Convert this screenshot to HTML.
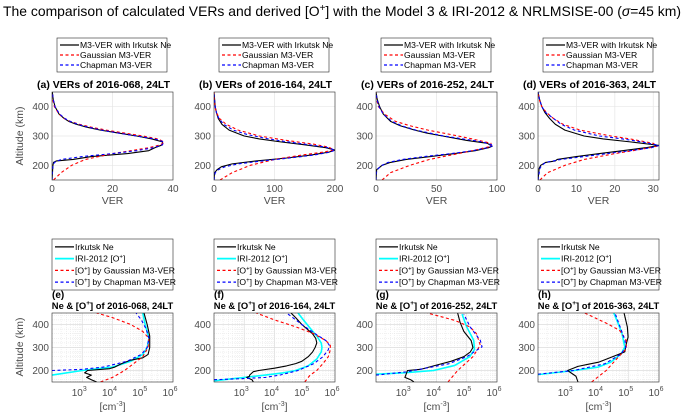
<!DOCTYPE html>
<html><head><meta charset="utf-8">
<style>
html,body{margin:0;padding:0;background:#fff;}
svg{display:block;font-family:"Liberation Sans",sans-serif;}
</style></head>
<body>
<svg id="fig" width="685" height="417" viewBox="0 0 685 417" xmlns="http://www.w3.org/2000/svg">
<text x="3" y="16" font-size="14" fill="#000" textLength="678" lengthAdjust="spacingAndGlyphs">The comparison of calculated VERs and derived [O<tspan dy="-5" font-size="10">+</tspan><tspan dy="5">] with the Model 3 &amp; IRI-2012 &amp; NRLMSISE-00 (</tspan><tspan font-style="italic">σ</tspan>=45 km)</text>
</svg>
<script>
// ---------- data ----------
const panelLefts = [52, 214, 376, 538];
const topTitles = ["(a)  VERs of 2016-068, 24LT","(b)  VERs of 2016-164, 24LT","(c)  VERs of 2016-252, 24LT","(d)  VERs of 2016-363, 24LT"];
const bottomTags = ["(e)","(f)","(g)","(h)"];
const bottomDates = ["2016-068","2016-164","2016-252","2016-363"];
const verMax = [40, 200, 100, 31.5];
const verTicks = [[0,20,40],[0,100,200],[0,50,100],[0,10,20,30]];
const altTicks = [200,300,400];
const logTicks = [3,4,5,6];

// VER panel (a)
const aBlackAlt=[150,200,210,215,220,230,240,250,260,270,280,290,300,310,320,330,340,350,360,375,400,425,450];
const aBlackVal=[0,0.3,0.5,1.5,7,13,25,32,34,36.5,36.5,33,28,22,16,11.5,8,5.5,4,2.3,1,0.4,0.1];
const aBlueAlt=[150,200,210,220,230,240,250,260,270,280,290,300,310,320,330,340,350,360,375,400,425,450];
const aBlueVal=[0,0.3,0.8,3,10,20,28,33.5,36.5,37,34,28,22,16.5,12,8.5,6,4.2,2.5,1,0.4,0.1];
const aRedAlt=[150,160,175,200,220,240,250,260,270,280,290,300,310,320,330,340,350,360,375,400,425,450];
const aRedVal=[0.5,1.5,3,6.5,11,20,26,32,36,37,35,30,24,18,13,9,6,4,2.3,0.8,0.2,0];
// VER panel (b)
const bBlackAlt=[150,175,185,195,205,215,225,235,245,252,260,270,280,290,300,320,340,360,380,400,425,450];
const bBlackVal=[0,1,5,12,30,70,120,160,190,200,185,150,110,75,50,25,13,7,4,2,1,0];
const bBlueAlt=[150,175,185,195,205,215,225,235,245,252,262,272,282,292,305,320,340,360,380,400,425,450];
const bBlueVal=[0,2,7,18,40,80,125,165,192,200,185,150,115,85,55,32,16,8,4,2,0.8,0];
const bRedAlt=[150,175,200,220,235,245,252,262,272,285,300,320,340,360,380,400,425,450];
const bRedVal=[10,30,60,100,145,180,198,190,165,120,75,40,20,9,4,1.5,0.5,0];
// VER panel (c)
const cBlackAlt=[150,185,190,200,210,220,230,240,250,260,265,275,285,300,310,320,335,350,375,400,425,450];
const cBlackVal=[0,0.5,2,5,12,25,45,65,82,93,96,92,75,55,42,32,20,12,6,3,1,0];
const cBlueAlt=[150,180,190,200,210,220,230,240,250,260,268,280,290,300,320,335,350,375,400,425,450];
const cBlueVal=[0,0.5,2,5,10,22,40,62,80,92,97,88,72,56,33,21,13,6,2.5,0.8,0];
const cRedAlt=[150,175,200,220,240,255,265,275,285,300,320,335,350,375,400,425,450];
const cRedVal=[5,12,28,44,68,85,95,95,85,68,43,28,16,7,2,0.5,0];
// VER panel (d)
const dBlackAlt=[150,190,200,210,215,220,230,240,250,260,268,280,290,300,320,340,360,380,400,425,450];
const dBlackVal=[0,0.3,0.7,2,4.5,5,10,16,22,28,31.5,24,17,12,7,4.5,3,1.8,1,0.4,0];
const dBlueAlt=[150,190,200,210,220,230,240,250,260,268,280,290,300,320,340,360,380,400,425,450];
const dBlueVal=[0,0.5,1,2,6,12,18,24,29.5,31.5,27,22,16,9.5,6,4,2,1,0.4,0];
const dRedAlt=[150,175,200,220,240,255,265,275,290,300,320,340,360,380,400,425,450];
const dRedVal=[0.5,2.5,7,12,20,27,31,30,24,19,11,6.5,4,2.2,1,0.3,0];

// density panel (e)
const eBlackAlt=[150,160,170,180,190,200,208,215,230,245,255,270,300,350,400,450];
const eBlackVal=[3e3,2e3,1.4e3,2e3,1.2e3,1.5e3,8e3,1.2e4,2e4,4e4,1e5,1.5e5,1.7e5,1.7e5,1.4e5,1.1e5];
const eCyanAlt=[180,200,215,240,270,300,340,400,450];
const eCyanVal=[1e2,1e3,1e4,4e4,1e5,1.4e5,1.6e5,1.2e5,1e5];
const eBlueAlt=[200,205,215,240,270,300,340,380,420,450];
const eBlueVal=[1e2,1e3,5e3,3e4,9e4,1.4e5,1.6e5,1.3e5,9e4,6e4];
const eRedAlt=[150,170,200,230,260,300,340,370,400,430,450];
const eRedVal=[4e3,1e4,2.5e4,5e4,1e5,1.5e5,1.6e5,1e5,4e4,1e4,3e3];
// density panel (f)
const fBlackAlt=[150,160,170,175,180,195,200,210,220,230,240,260,280,300,320,340,360,380,400,430,450];
const fBlackVal=[2e3,1.8e3,1.2e3,1.5e3,1.5e3,2e3,3e3,1e4,2.5e4,5e4,8e4,1.3e5,1.8e5,2.2e5,2.5e5,2.3e5,1.8e5,1.2e5,8e4,5e4,3.5e4];
const fCyanAlt=[155,170,180,190,200,220,250,280,300,320,350,380,420,450];
const fCyanVal=[1e2,1e3,5e3,2e4,5e4,1.3e5,2.5e5,3.5e5,3.7e5,3.5e5,2.5e5,1.6e5,9e4,6e4];
const fBlueAlt=[160,165,170,180,200,230,260,290,310,330,360,400,430,450];
const fBlueVal=[1e2,1e3,5e3,1.5e4,6e4,2e5,4e5,6e5,6.5e5,5e5,2.2e5,8e4,4e4,2.5e4];
const fRedAlt=[150,180,200,230,260,290,310,330,360,390,420,450];
const fRedVal=[1e5,1.5e5,2.5e5,4e5,6e5,7e5,7e5,5e5,2e5,5e4,1e4,2.5e3];
// density panel (g)
const gBlackAlt=[150,160,170,185,200,205,220,240,260,280,300,330,370,410,450];
const gBlackVal=[1.8e3,1.4e3,9e2,1e3,1.1e3,3e3,8e3,3e4,8e4,1.3e5,1.6e5,1.4e5,8e4,6e4,5e4];
const gCyanAlt=[184,190,200,222,260,291,331,389,445];
const gCyanVal=[1e2,8.5e2,8e3,4e4,1.25e5,1.8e5,1.7e5,1e5,7e4];
const gBlueAlt=[180,194,229,260,303,331,389,445];
const gBlueVal=[1e2,1e3,2.5e4,1e5,3.2e5,2.8e5,1.3e5,8e4];
const gRedAlt=[150,200,260,310,360,389,418,450];
const gRedVal=[2.4e4,5e4,1.6e5,2.8e5,2.1e5,1.3e5,4e4,5e3];
// density panel (h)
const hBlackAlt=[150,175,200,218,227,236,258,281,316,345,389,450];
const hBlackVal=[2.1e3,1.8e3,9.5e2,2.1e3,4.5e3,1e4,2.7e4,7.4e4,8.3e4,9.5e4,9e4,7e4];
const hCyanAlt=[182,200,215,236,272,302,360,403,450];
const hCyanVal=[1e2,1.6e3,1e4,2.5e4,5.6e4,7.4e4,6e4,4.5e4,3.2e4];
const hBlueAlt=[184,200,229,272,302,331,389,450];
const hBlueVal=[1e2,1.5e3,1.6e4,5.6e4,8e4,7.5e4,5.2e4,3.5e4];
const hRedAlt=[150,200,258,295,331,374,403,450];
const hRedVal=[5.9e3,1.8e4,4.5e4,8.3e4,8.3e4,5e4,2e4,3.5e3];

// ---------- drawing ----------
const NS="http://www.w3.org/2000/svg";
const svg=document.getElementById('fig');
function mk(tag,attrs,parent){const e=document.createElementNS(NS,tag);for(const k in attrs)e.setAttribute(k,attrs[k]);(parent||svg).appendChild(e);return e;}
const PW=121;
const TOP={y0:92,y1:180}, BOT={y0:313,y1:382};
function yScale(row){return a=>row.y1-(a-150)/300*(row.y1-row.y0);}
function xLin(left,max){return v=>left+v/max*PW;}
function xLog(left){return v=>left+(Math.log10(Math.max(v,1e-9))-2)/4*PW;}
function clipRect(id,left,row){const cp=mk('clipPath',{id:id});mk('rect',{x:left,y:row.y0,width:PW,height:row.y1-row.y0},cp);}
function drawSeries(g,alts,vals,xs,ys,color,dash,w,name){
  const pts=alts.map((a,i)=>xs(vals[i]).toFixed(2)+","+ys(a).toFixed(2)).join(" ");
  const p=mk('polyline',{points:pts,fill:"none",stroke:color,"stroke-width":w,"stroke-dasharray":dash||"none","stroke-linejoin":"round"},g);
  
  
}
const topData=[
 [aBlackAlt,aBlackVal,aRedAlt,aRedVal,aBlueAlt,aBlueVal],
 [bBlackAlt,bBlackVal,bRedAlt,bRedVal,bBlueAlt,bBlueVal],
 [cBlackAlt,cBlackVal,cRedAlt,cRedVal,cBlueAlt,cBlueVal],
 [dBlackAlt,dBlackVal,dRedAlt,dRedVal,dBlueAlt,dBlueVal]];
const botData=[
 [eBlackAlt,eBlackVal,eCyanAlt,eCyanVal,eRedAlt,eRedVal,eBlueAlt,eBlueVal],
 [fBlackAlt,fBlackVal,fCyanAlt,fCyanVal,fRedAlt,fRedVal,fBlueAlt,fBlueVal],
 [gBlackAlt,gBlackVal,gCyanAlt,gCyanVal,gRedAlt,gRedVal,gBlueAlt,gBlueVal],
 [hBlackAlt,hBlackVal,hCyanAlt,hCyanVal,hRedAlt,hRedVal,hBlueAlt,hBlueVal]];
const TICKC="#4d4d4d";

function legend(x,y,w,h,items,name){
  const g=mk('g',{});
  
  
  mk('rect',{x:x,y:y,width:w,height:h,fill:"#fff",stroke:"#262626","stroke-width":0.6},g);
  const rh=(h-4)/items.length;
  items.forEach((it,i)=>{
    const cy=y+2+rh*i+rh/2;
    mk('line',{x1:x+3,y1:cy,x2:x+22,y2:cy,stroke:it.c,"stroke-width":it.w+0.2,"stroke-dasharray":it.d||"none"},g);
    const t=mk('text',{x:x+23,y:cy+3,"font-size":8.6,fill:"#000"},g);
    t.innerHTML=it.t;
    
    
  });
}

for(let p=0;p<4;p++){
  const L=panelLefts[p];
  // ---- top VER panel ----
  const ys=yScale(TOP), xs=xLin(L,verMax[p]);
  const gT=mk('g',{});
  
  
  mk('rect',{x:L,y:TOP.y0,width:PW,height:TOP.y1-TOP.y0,fill:"#fff"},gT);
  verTicks[p].forEach(v=>{const x=xs(v);
    if(v>0&&v<verMax[p]) mk('line',{x1:x,y1:TOP.y0,x2:x,y2:TOP.y1,stroke:"#e6e6e6","stroke-width":0.7},gT);
    const t=mk('text',{x:x,y:TOP.y1+12,"font-size":10,fill:TICKC,"text-anchor":"middle"},gT);t.textContent=v;
    
    
  });
  altTicks.forEach(a=>{const y=ys(a);
    mk('line',{x1:L,y1:y,x2:L+PW,y2:y,stroke:"#e6e6e6","stroke-width":0.7},gT);
    const t=mk('text',{x:L-3,y:y+3.5,"font-size":10,fill:TICKC,"text-anchor":"end"},gT);t.textContent=a;
    
    
  });
  clipRect('ct'+p,L,TOP);
  const cg=mk('g',{"clip-path":"url(#ct"+p+")"},gT);
  const d=topData[p];
  drawSeries(cg,d[0],d[1],xs,ys,"#000","",1.1,"m3-ver-irkutsk-line");
  drawSeries(cg,d[2],d[3],xs,ys,"#ff0000","3,2.5",1.1,"gaussian-ver-line");
  drawSeries(cg,d[4],d[5],xs,ys,"#0000ff","3,2.5",1.1,"chapman-ver-line");
  mk('rect',{x:L,y:TOP.y0,width:PW,height:TOP.y1-TOP.y0,fill:"none",stroke:"#262626","stroke-width":0.6},gT);
  let t=mk('text',{x:L+PW/2,y:TOP.y1+24,"font-size":10.5,fill:TICKC,"text-anchor":"middle"},gT);t.textContent="VER";
  
  
  t=mk('text',{x:L+PW/2-9,y:88,"font-size":10.5,"font-weight":"bold",fill:"#000","text-anchor":"middle",textLength:133,lengthAdjust:"spacingAndGlyphs"},gT);t.textContent=topTitles[p];
  
  
  legend(L+5,38,110,34,[{c:"#000",w:1.1,t:"M3-VER with Irkutsk Ne"},{c:"#ff0000",w:1.1,d:"3,2.5",t:"Gaussian M3-VER"},{c:"#0000ff",w:1.1,d:"3,2.5",t:"Chapman M3-VER"}],'ver-legend');

  // ---- bottom density panel ----
  const yb=yScale(BOT), xl=xLog(L);
  const gB=mk('g',{});
  
  
  mk('rect',{x:L,y:BOT.y0,width:PW,height:BOT.y1-BOT.y0,fill:"#fff"},gB);
  for(let dec=2;dec<6;dec++){for(let m=2;m<=9;m++){const x=xl(m*Math.pow(10,dec));
    mk('line',{x1:x,y1:BOT.y0,x2:x,y2:BOT.y1,stroke:"#e3e3e3","stroke-width":0.5,"stroke-dasharray":"1,1"},gB);}}
  for(let a=160;a<450;a+=20){if(a%100){const y=yb(a);mk('line',{x1:L,y1:y,x2:L+PW,y2:y,stroke:"#e3e3e3","stroke-width":0.5,"stroke-dasharray":"1,1"},gB);}}
  logTicks.forEach(e=>{const x=xl(Math.pow(10,e));
    if(e<6) mk('line',{x1:x,y1:BOT.y0,x2:x,y2:BOT.y1,stroke:"#dcdcdc","stroke-width":0.7},gB);
    const t=mk('text',{x:x-3,y:BOT.y1+14,"font-size":10,fill:TICKC,"text-anchor":"middle"},gB);
    t.innerHTML='10<tspan dy="-5" font-size="7">'+e+'</tspan>';
    
    
  });
  altTicks.forEach(a=>{const y=yb(a);
    mk('line',{x1:L,y1:y,x2:L+PW,y2:y,stroke:"#dcdcdc","stroke-width":0.7},gB);
    const t=mk('text',{x:L-3,y:y+3.5,"font-size":10,fill:TICKC,"text-anchor":"end"},gB);t.textContent=a;
    
    
  });
  clipRect('cb'+p,L,BOT);
  const cb=mk('g',{"clip-path":"url(#cb"+p+")"},gB);
  const b=botData[p];
  drawSeries(cb,b[2],b[3],xl,yb,"#00ffff","",1.6,"iri-oplus-line");
  drawSeries(cb,b[0],b[1],xl,yb,"#000","",1.1,"irkutsk-ne-line");
  drawSeries(cb,b[4],b[5],xl,yb,"#ff0000","3,2.5",1.1,"gaussian-oplus-line");
  drawSeries(cb,b[6],b[7],xl,yb,"#0000ff","3,2.5",1.1,"chapman-oplus-line");
  mk('rect',{x:L,y:BOT.y0,width:PW,height:BOT.y1-BOT.y0,fill:"none",stroke:"#262626","stroke-width":0.6},gB);
  t=mk('text',{x:L+PW/2,y:BOT.y1+28,"font-size":10.5,fill:TICKC,"text-anchor":"middle"},gB);
  t.innerHTML='[cm<tspan dy="-4" font-size="7">-3</tspan><tspan dy="4">]</tspan>';
  
  
  t=mk('text',{x:L,y:298,"font-size":10,"font-weight":"bold",fill:"#000"},gB);t.textContent=bottomTags[p];
  
  
  t=mk('text',{x:L+PW/2,y:309,"font-size":9.4,"font-weight":"bold",fill:"#000","text-anchor":"middle"},gB);
  t.innerHTML='Ne &amp; [O<tspan dy="-4" font-size="6.5">+</tspan><tspan dy="4">] of '+bottomDates[p]+', 24LT</tspan>';
  
  
  legend(L,239,PW,51,[{c:"#000",w:1.1,t:"Irkutsk Ne"},{c:"#00ffff",w:1.6,t:'IRI-2012 [O<tspan dy="-3" font-size="6">+</tspan><tspan dy="3">]</tspan>'},{c:"#ff0000",w:1.1,d:"3,2.5",t:'[O<tspan dy="-3" font-size="6">+</tspan><tspan dy="3">] by Gaussian M3-VER</tspan>'},{c:"#0000ff",w:1.1,d:"3,2.5",t:'[O<tspan dy="-3" font-size="6">+</tspan><tspan dy="3">] by Chapman M3-VER</tspan>'}],'density-legend');
}
// y axis titles
let yt=mk('text',{x:0,y:0,"font-size":10.5,fill:TICKC,"text-anchor":"middle",transform:"translate(23,136) rotate(-90)"});
yt.textContent="Altitude (km)";


yt=mk('text',{x:0,y:0,"font-size":10.5,fill:TICKC,"text-anchor":"middle",transform:"translate(23,347) rotate(-90)"});
yt.textContent="Altitude (km)";


</script>
</body></html>
